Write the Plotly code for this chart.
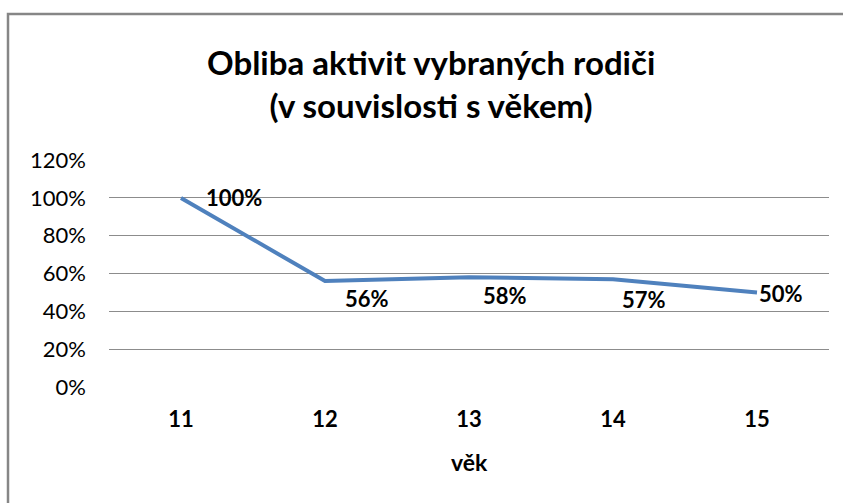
import plotly.graph_objects as go

ages = ["11", "12", "13", "14", "15"]
values = [1.00, 0.56, 0.58, 0.57, 0.50]
labels = ["100%", "56%", "58%", "57%", "50%"]
y_ticks = [0, 0.2, 0.4, 0.6, 0.8, 1.0, 1.2]
y_tick_text = ["0%", "20%", "40%", "60%", "80%", "100%", "120%"]

# label offsets (pixels) to mimic the original placement
label_dx = [53, 42, 36, 31, 24]
label_dy = [0, -17, -18, -20, -1]

FONT = "Lato"

fig = go.Figure()
fig.add_trace(go.Scatter(
    x=ages, y=values, mode="lines",
    line=dict(color="#4F81BD", width=4),
    showlegend=False, hoverinfo="skip",
))

for i, (v, t, dx, dy) in enumerate(zip(values, labels, label_dx, label_dy)):
    fig.add_annotation(x=i, y=v, xref="x", yref="y", text="<b>" + t + "</b>",
                       showarrow=False, xshift=dx, yshift=dy,
                       xanchor="center", yanchor="middle",
                       font=dict(family=FONT, size=22, color="#000000"))

W, H = 843, 503
L, R, T, B = 109, 14, 160, 116
pw, ph = W - L - R, H - T - B

def px_to_paper_x(px):
    return (px - L) / pw

def px_to_paper_y(py):
    return (H - B - py) / ph

# outer chart border (left and top visible)
fig.add_shape(type="rect", xref="paper", yref="paper",
              x0=px_to_paper_x(8), x1=px_to_paper_x(860),
              y0=px_to_paper_y(520), y1=px_to_paper_y(14),
              line=dict(color="#868686", width=2.5), layer="below")

fig.add_annotation(xref="paper", yref="paper",
                   x=px_to_paper_x(431), y=px_to_paper_y(83),
                   xanchor="center", yanchor="middle",
                   text="<b>Obliba aktivit vybraných rodiči<br>(v souvislosti s věkem)</b>",
                   showarrow=False, align="center",
                   font=dict(family=FONT, size=33, color="#000000"))

# x-axis title
fig.add_annotation(xref="paper", yref="paper",
                   x=px_to_paper_x(469), y=px_to_paper_y(462),
                   xanchor="center", yanchor="middle",
                   text="<b>věk</b>", showarrow=False,
                   font=dict(family=FONT, size=23, color="#000000"))

fig.update_layout(
    width=W, height=H,
    margin=dict(l=L, r=R, t=T, b=B, pad=0, autoexpand=False),
    paper_bgcolor="white", plot_bgcolor="white",
    font=dict(family=FONT, color="#000000", size=17),
    xaxis=dict(type="category", range=[-0.5, 4.5], showgrid=False,
               showline=False, zeroline=False, ticks="", automargin=False,
               ticklabelstandoff=17,
               tickfont=dict(family=FONT, size=22, color="#000000"),
               tickprefix="<b>", ticksuffix="</b>"),
    yaxis=dict(range=[-0.0005, 1.2005], tickvals=y_ticks, ticktext=y_tick_text,
               showgrid=True, gridcolor="#8C8C8C", gridwidth=1,
               zeroline=False, showline=False, ticks="", automargin=False,
               ticklabelstandoff=22,
               tickfont=dict(family=FONT, size=22, color="#000000")),
)

fig.write_html("out.html", config={"displayModeBar": False},
               post_script="document.body.style.margin='0';")
